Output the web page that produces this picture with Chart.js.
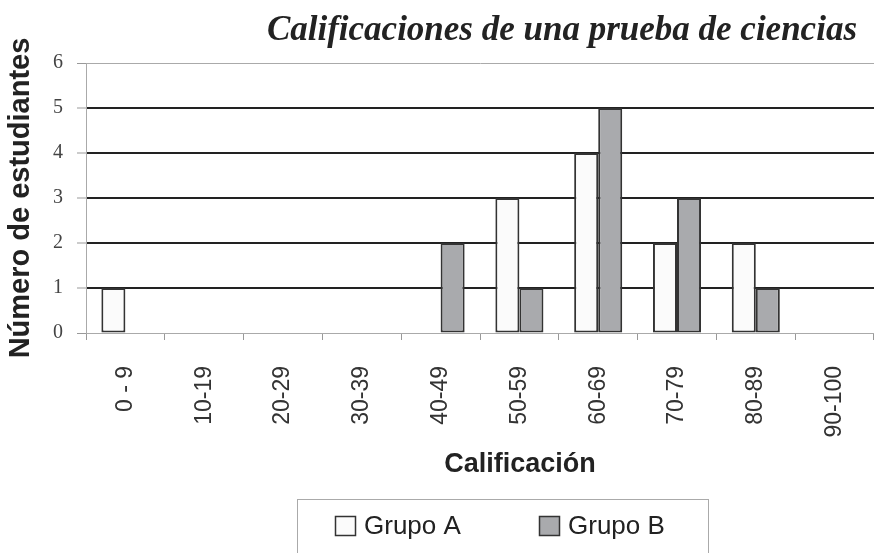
<!DOCTYPE html>
<html>
<head>
<meta charset="utf-8">
<script src="https://cdn.jsdelivr.net/npm/chart.js@4"></script>
<style>
  body { margin: 0; background: #fff; }
  #wrap { width: 874px; height: 553px; }
</style>
</head>
<body>
<div id="wrap"><canvas id="grafico"></canvas></div>
<script>
const categorias = ["0 - 9", "10-19", "20-29", "30-39", "40-49", "50-59", "60-69", "70-79", "80-89", "90-100"];
const grupoA = [1, 0, 0, 0, 0, 3, 4, 2, 2, 0];
const grupoB = [0, 0, 0, 0, 2, 1, 5, 3, 1, 0];
const nombresSeries = ["Grupo A", "Grupo B"];
const tituloGrafico = "Calificaciones de una prueba de ciencias";
const tituloEjeX = "Calificación";
const tituloEjeY = "Número de estudiantes";

// titulo, titulo del eje x y leyenda con recuadro, dibujados a mano
const textosPlugin = {
    id: "textos",
    afterDraw(chart) {
        const ctx = chart.ctx;
        ctx.save();
        ctx.fillStyle = "#222";
        ctx.textBaseline = "alphabetic";

        ctx.font = "italic bold 35px 'Liberation Serif'";
        ctx.textAlign = "right";
        ctx.fillText(tituloGrafico, 857, 40);

        ctx.font = "bold 27px 'Liberation Sans'";
        ctx.textAlign = "center";
        ctx.fillText(tituloEjeX, 520, 472);

        // recuadro de la leyenda
        ctx.strokeStyle = "#aaa";
        ctx.lineWidth = 1;
        ctx.strokeRect(297.5, 499.5, 411, 80);

        const itemX = [335, 539];
        chart.data.datasets.forEach((ds, i) => {
            ctx.fillStyle = ds.backgroundColor;
            ctx.fillRect(itemX[i], 516, 21, 20);
            ctx.strokeStyle = ds.borderColor;
            ctx.lineWidth = 1.5;
            ctx.strokeRect(itemX[i] + 0.5, 516.5, 20, 19);
            ctx.fillStyle = "#222";
            ctx.font = "26px 'Liberation Sans'";
            ctx.textAlign = "left";
            ctx.fillText(ds.label, itemX[i] + 29, 534);
        });
        ctx.restore();
    }
};

document.addEventListener("DOMContentLoaded", function () {
    const ctx = document.getElementById("grafico").getContext("2d");

    new Chart(ctx, {
        type: "bar",
        data: {
            labels: categorias,
            datasets: [
                {
                    label: nombresSeries[0],
                    data: grupoA,
                    backgroundColor: "#fbfbfb",
                    borderColor: "#333",
                    borderWidth: 2,
                    borderSkipped: false
                },
                {
                    label: nombresSeries[1],
                    data: grupoB,
                    backgroundColor: "#a9aaad",
                    borderColor: "#333",
                    borderWidth: 2,
                    borderSkipped: false
                }
            ]
        },
        options: {
            responsive: true,
            maintainAspectRatio: false,
            animation: false,
            layout: { padding: { top: 63, right: 0, bottom: 0, left: 0 } },
            datasets: {
                bar: { categoryPercentage: 0.61, barPercentage: 1.0 }
            },
            plugins: {
                legend: { display: false },
                title: { display: false },
                tooltip: { enabled: false }
            },
            scales: {
                x: {
                    afterFit(scale) {
                        scale.height = 220;
                        scale.paddingLeft = 0;
                        scale.paddingRight = 0;
                    },
                    border: { display: true, color: "#aaa", width: 1 },
                    grid: {
                        offset: true,
                        drawOnChartArea: false,
                        drawTicks: true,
                        tickLength: 7,
                        tickColor: "#999",
                        tickWidth: 1
                    },
                    ticks: {
                        autoSkip: false,
                        minRotation: 90,
                        maxRotation: 90,
                        padding: 26,
                        color: "#333",
                        font: { family: "'Liberation Sans'", size: 23 }
                    }
                },
                y: {
                    min: 0,
                    max: 6,
                    afterFit(scale) { scale.width = 86; },
                    border: { display: true, color: "#aaa", width: 1 },
                    grid: {
                        color: (c) => (c.tick.value === 0 || c.tick.value === 6) ? "#aaa" : "#222",
                        lineWidth: (c) => (c.tick.value === 0 || c.tick.value === 6) ? 1 : 2,
                        drawTicks: true,
                        tickLength: 9,
                        tickColor: "#999",
                        tickWidth: 1
                    },
                    ticks: {
                        stepSize: 1,
                        padding: 14,
                        color: "#444",
                        font: { family: "'Liberation Serif'", size: 20 }
                    },
                    title: {
                        display: true,
                        text: tituloEjeY,
                        color: "#222",
                        font: { family: "'Liberation Sans'", size: 29, weight: "bold" },
                        padding: { top: 4, bottom: 0 }
                    }
                }
            }
        },
        plugins: [textosPlugin]
    });
});
</script>
</body>
</html>
